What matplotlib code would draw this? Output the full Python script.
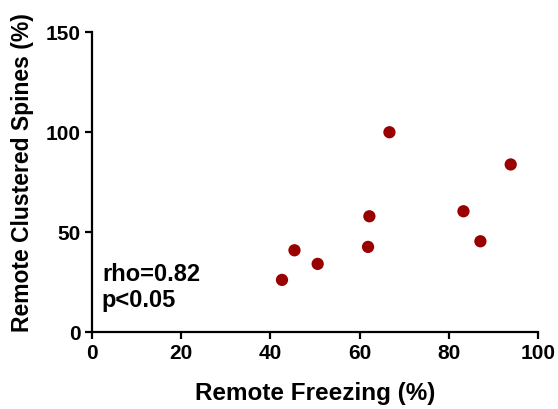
import matplotlib.pyplot as plt

plt.rcParams['font.family'] = ['Liberation Sans', 'DejaVu Sans']
plt.rcParams['font.weight'] = 'bold'

# remote freezing vs remote clustered spines, one point per animal
freezing = [42.6, 45.4, 50.6, 61.9, 62.2, 66.7, 83.3, 87.1, 93.9]
clustered = [26.0, 40.8, 34.0, 42.5, 57.8, 99.8, 60.3, 45.3, 83.7]
stats_text = "rho=0.82\np<0.05"

fig = plt.figure(figsize=(5.58, 4.10), dpi=100)
ax = fig.add_axes([0.165, 0.188, 0.799, 0.732])

ax.scatter(freezing, clustered, s=78, color='#990000', edgecolors='none', zorder=3)

ax.set_xlim(0, 100)
ax.set_ylim(0, 150)
ax.set_xticks(range(0, 101, 20))
ax.set_yticks(range(0, 151, 50))

for side in ['top', 'right']:
    ax.spines[side].set_visible(False)
for side in ['left', 'bottom']:
    ax.spines[side].set_linewidth(1.6)
ax.tick_params(width=1.6, length=5, labelsize=15, pad=3)
for lab in ax.get_xticklabels() + ax.get_yticklabels():
    lab.set_fontweight('bold')

ax.set_xlabel("Remote Freezing (%)", fontsize=17.5, fontweight='bold')
ax.set_ylabel("Remote Clustered Spines (%)", fontsize=16.5, fontweight='bold')
ax.xaxis.set_label_coords(0.5, -0.165)
ax.yaxis.set_label_coords(-0.13, 0.535)

ax.text(2.2, 35, stats_text, fontsize=17, fontweight='bold', va='top', ha='left',
        linespacing=1.15)

fig.savefig("out.png", dpi=100)
